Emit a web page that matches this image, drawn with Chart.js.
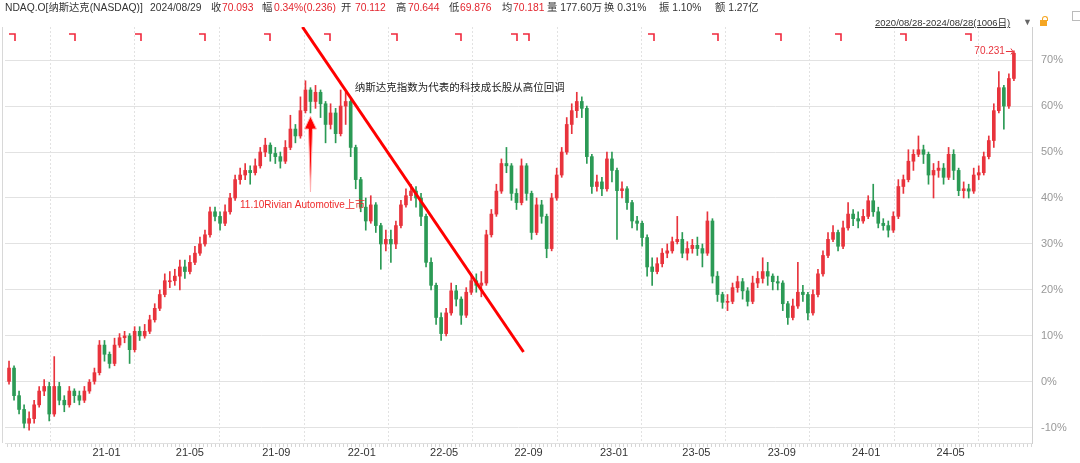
<!DOCTYPE html>
<html lang="zh-CN">
<head>
<meta charset="UTF-8">
<title>NDAQ.O 纳斯达克 K线</title>
<script src="https://cdn.jsdelivr.net/npm/chart.js@4"></script>
<style>
  html, body { margin: 0; padding: 0; background: #fff; }
  .wrap { position: relative; width: 1080px; height: 463px; overflow: hidden;
          font-family: "Liberation Sans", "Noto Sans CJK SC", sans-serif; }
  #kline { position: absolute; left: 0; top: 0; }
  .hd { position: absolute; top: 1px; font-size: 10.3px; line-height: 14px; color: #333; white-space: nowrap; }
  .hd.r { color: #e3262f; }
  .range { position: absolute; left: 875px; top: 16px; font-size: 9.5px; line-height: 14px; color: #333;
           text-decoration: underline; white-space: nowrap; }
  .tri { position: absolute; left: 1023px; top: 17px; font-size: 9px; color: #666; }
  .lock { position: absolute; left: 1040px; top: 20px; width: 7px; height: 6px; background: #f5a623; }
  .lock:before { content: ""; position: absolute; left: 2px; top: -4px; width: 4px; height: 4px;
                 border: 1px solid #f5a623; border-bottom: none; border-radius: 3px 3px 0 0; }
  .ico { position: absolute; left: 1072px; top: 11px; width: 7px; height: 8px; border: 1px solid #bbb; }
</style>
</head>
<body>
<div class="wrap">
  <canvas id="kline" width="1080" height="463"></canvas>

  <span class="hd" style="left:5px">NDAQ.O[纳斯达克(NASDAQ)]</span>
  <span class="hd" style="left:150px">2024/08/29</span>
  <span class="hd" style="left:211px">收</span><span class="hd r" style="left:222px">70.093</span>
  <span class="hd" style="left:262px">幅</span><span class="hd r" style="left:274px">0.34%(0.236)</span>
  <span class="hd" style="left:341px">开</span><span class="hd r" style="left:355px">70.112</span>
  <span class="hd" style="left:396px">高</span><span class="hd r" style="left:408px">70.644</span>
  <span class="hd" style="left:449px">低</span><span class="hd r" style="left:460px">69.876</span>
  <span class="hd" style="left:502px">均</span><span class="hd r" style="left:513px">70.181</span>
  <span class="hd" style="left:547px">量 177.60万</span>
  <span class="hd" style="left:604px">换 0.31%</span>
  <span class="hd" style="left:659px">振 1.10%</span>
  <span class="hd" style="left:715px">额 1.27亿</span>

  <span class="range">2020/08/28-2024/08/28(1006日)</span>
  <span class="tri">▼</span>
  <span class="lock"></span>
  <span class="ico"></span>
</div>

<script>
  // 周K (每5个交易日一根), 数值为相对 2020/08/28 的涨跌幅 %
  var opens = [
    0, 3, -3, -6, -9, -8, -5, -2, -1, -7,
    -1, -4, -5, -2, -3, -4, -2, 0, 2, 8,
    6, 4, 8, 9.6, 10, 7, 11, 10, 11, 13.5,
    16, 19, 22, 22, 23, 25, 24, 26, 28, 30,
    32, 37, 36, 34.5, 37, 40, 44, 45, 46, 45.5,
    47, 50, 51.5, 49.7, 49, 48, 51, 55, 53.5, 59,
    63.5, 61, 63, 60.5, 56, 58.5, 54, 60, 61, 51,
    44, 38, 35, 38.5, 34, 30, 31, 30, 34, 38.5,
    40.5, 41.5, 40, 36, 26, 21, 14, 10.5, 15, 19.8,
    18, 14.5, 19.5, 22, 21, 21.5, 32, 36.5, 41.5, 47.5,
    47, 41, 39, 47, 41, 32.5, 38.5, 36, 29, 40,
    45, 50, 56, 59, 61, 59.5, 49, 42.5, 43.5, 42,
    48.5, 46, 41.6, 42, 39, 35, 34.5, 31.4, 25, 24,
    25.7, 28, 28.5, 30.5, 31, 28, 29, 29.7, 29, 28,
    35, 23, 19, 17.3, 17.5, 20.5, 21.8, 19.8, 17.5, 21.5,
    22.5, 24, 23, 21.8, 21.5, 17, 14, 16.5, 19.5, 19,
    15, 19, 23.5, 27.5, 31, 32.5, 29.5, 33.5, 36.5, 35.5,
    35, 36, 39.4, 37, 34.5, 34, 33, 36, 42.5, 44,
    48, 49.5, 50.5, 49.5, 45, 46, 46.5, 44.5, 49.5, 46,
    41.6, 42, 41.5, 45, 45.5, 49, 52.5, 59, 64, 60,
    66
  ];
  var closes = [
    3, -3, -6, -9, -8, -5, -2, -1, -7, -1,
    -4, -5, -2, -3, -4, -2, 0, 2, 8, 6,
    4, 8, 9.6, 10, 7, 11, 10, 11, 13.5, 16,
    19, 22, 22, 23, 25, 24, 26, 28, 30, 32,
    37, 36, 34.5, 37, 40, 44, 45, 46, 45.5, 47,
    50, 51.5, 49.7, 49, 48, 51, 55, 53.5, 59, 63.5,
    61, 63, 60.5, 56, 58.5, 54, 60, 61, 51, 44,
    38, 35, 38.5, 34, 30, 31, 30, 34, 38.5, 40.5,
    41.5, 40, 36, 26, 21, 14, 10.5, 15, 19.8, 18,
    14.5, 19.5, 22, 21, 21.5, 32, 36.5, 41.5, 47.5, 47,
    41, 39, 47, 41, 32.5, 38.5, 36, 29, 40, 45,
    50, 56, 59, 61, 59.5, 49, 42.5, 43.5, 42, 48.5,
    46, 41.6, 42, 39, 35, 34.5, 31.4, 25, 24, 25.7,
    28, 28.5, 30.5, 31, 28, 29, 29.7, 29, 28, 35,
    23, 19, 17.3, 17.5, 20.5, 21.8, 19.8, 17.5, 21.5, 22.5,
    24, 23, 21.8, 21.5, 17, 14, 16.5, 19.5, 19, 15,
    19, 23.5, 27.5, 31, 32.5, 29.5, 33.5, 36.5, 35.5, 35,
    36, 39.4, 37, 34.5, 34, 33, 36, 42.5, 44, 48,
    49.5, 50.5, 49.5, 45, 46, 46.5, 44.5, 49.5, 46, 41.6,
    42, 41.5, 45, 45.5, 49, 52.5, 59, 64, 60, 66,
    71.5
  ];
  var highs = [
    4.5, 3.5, -2, -5, -6.5, -4, -1, 0.5, 0, 5.5,
    0, -3, -1, -1.5, -2, -1, 0.5, 3, 9, 9,
    6.5, 9.5, 10.5, 11, 10.5, 12, 12, 12.5, 14.5, 17,
    20, 23.5, 24, 24.5, 26.5, 26.5, 27.5, 29.5, 31.5, 33,
    38, 38, 37, 38.5, 41, 45, 46.5, 47.5, 47, 48.5,
    51, 53, 52, 51, 50, 52.5, 58, 56, 62, 65.5,
    64, 64.5, 63.5, 61, 60.5, 59.5, 63.5, 63, 61.5, 51.5,
    44.5, 40, 40.5, 39, 34.5, 33, 33, 35, 39.5, 42,
    43, 42.5, 41, 36.5, 27, 21.5, 15, 16, 21.5, 21,
    18.5, 20.5, 23.5, 23.5, 24, 33, 37.5, 43, 48.5, 51,
    47.5, 42, 48.5, 47.5, 41.5, 40, 39.5, 36.5, 41, 46.5,
    51, 57.5, 60.5, 63, 62, 60, 49.5, 45, 44.5, 50,
    50, 46.5, 43.5, 42.5, 39.5, 36, 35, 32, 27, 27,
    29, 30, 31.5, 36, 32.5, 30.5, 31, 31.5, 30, 37,
    35.5, 24, 19.5, 19, 21.5, 23, 22.5, 20.5, 23, 24,
    27, 26, 23.5, 23, 22, 17.5, 18, 26, 21, 19.5,
    20, 24.5, 28.5, 32.5, 34, 33, 35, 39, 37.5, 37,
    37.5, 40.5, 43, 38, 35.5, 35, 37, 44, 45, 50.5,
    50.5, 53.5, 51.5, 50, 47.5, 48, 47.5, 51, 50.5, 46.5,
    43.5, 43, 46.5, 47, 50, 53.5, 60.5, 67.5, 64.5, 67,
    72
  ];
  var lows = [
    -0.5, -4, -7, -10, -10.5, -9, -5.5, -3, -8.5, -7.5,
    -5, -6.5, -5.5, -4.5, -5, -4.5, -2.5, -0.5, 1.5, 4.5,
    3, 3.5, 7.5, 8.5, 4, 6.5, 9, 9.5, 10.5, 13,
    15.5, 18.5, 20.5, 21, 20, 22.5, 23.5, 25.5, 27.5, 29.5,
    31.5, 35, 33, 34, 36.5, 39.5, 43, 44, 43, 45,
    46.5, 49, 48, 47.5, 46.5, 47.5, 50.5, 52, 53, 58.5,
    58.5, 59.5, 57.5, 52, 55, 52, 53.5, 56, 49, 42,
    37, 33, 34.5, 32.5, 24.5, 28.5, 26, 29, 33.5, 38,
    39.5, 38, 34, 25, 20, 12.5, 9, 10, 14.5, 16.5,
    12.5, 14, 19, 19.5, 18.5, 21, 31.5, 36, 41, 45.5,
    39.5, 37.5, 38.5, 39.5, 31, 32, 34.5, 27, 28.5, 39.5,
    44.5, 49.5, 54, 57.5, 57.5, 47.5, 41, 41.5, 40.5, 41.5,
    43.5, 31, 40, 37.5, 33.5, 33, 29.5, 23, 21, 23.5,
    25, 27, 28, 30, 27, 26.5, 28, 27.5, 25, 27.5,
    21.5, 17.5, 16, 15.5, 17, 19.5, 18, 16.5, 17, 20.5,
    21.5, 21, 20, 20, 15.5, 12.5, 13.5, 16, 17.5, 13.5,
    14.5, 18.5, 23, 27, 30.5, 28.5, 29, 33, 34, 33.5,
    34.5, 35.5, 36, 33.5, 33, 31.5, 32.5, 35.5, 41, 43.5,
    46, 49, 47.5, 43, 40, 44.5, 43, 44, 44, 40.5,
    40, 40, 41, 44, 45, 48.5, 51, 58.5, 55, 59.5,
    65.5
  ];

  // x轴: 交易日序号 -> 月份标签
  var tickDays = [85, 168, 254, 339, 421, 505, 590, 672, 757, 841, 925];
  var tickLabels = ["21-01", "21-05", "21-09", "22-01", "22-05", "22-09", "23-01", "23-05", "23-09", "24-01", "24-05"];
  var yTicks = [-10, 0, 10, 20, 30, 40, 50, 60, 70];

  // 分红标记 (交易日序号)
  var divDays = [2, 62, 127, 191, 256, 315, 382, 446, 502, 513, 638, 702, 764, 824, 889, 953];

  // 趋势线端点 [交易日, %]
  var trendDays = [294, 514];
  var trendVals = [77.2, 6.5];

  var maxLabel = "70.231";
  var RED = "#e8333c";
  var GREEN = "#2b9a55";

  var candleX = [];
  for (var i = 0; i < closes.length; i++) candleX.push(i * 5 + 2);

  var wickData = [], bodyData = [], cores = [];
  for (var i = 0; i < closes.length; i++) {
    wickData.push({ x: candleX[i], y: [lows[i], highs[i]] });
    bodyData.push({ x: candleX[i], y: [opens[i], closes[i]] });
    cores.push(closes[i] >= opens[i] ? RED : GREEN);
  }
  var trendData = [
    { x: trendDays[0], y: trendVals[0] },
    { x: trendDays[1], y: trendVals[1] }
  ];

  var deco = {
    id: "deco",
    afterDraw: function (chart) {
      var ctx = chart.ctx, a = chart.chartArea;
      var xs = chart.scales.x, ys = chart.scales.y;
      ctx.save();

      // borda esquerda
      ctx.strokeStyle = "#d8d8d8";
      ctx.lineWidth = 1;
      ctx.beginPath();
      ctx.moveTo(2.5, a.top);
      ctx.lineTo(2.5, a.bottom);
      ctx.stroke();

      // régua abaixo do gráfico
      ctx.strokeStyle = "#d6d6d6";
      ctx.beginPath();
      for (var px = a.left + 2; px < a.right; px += 4) {
        ctx.moveTo(px + 0.5, a.bottom + 1);
        ctx.lineTo(px + 0.5, a.bottom + 4);
      }
      ctx.stroke();

      // marcadores de dividendos
      ctx.strokeStyle = "#f0283c";
      ctx.lineWidth = 1.6;
      divDays.forEach(function (d) {
        var x = Math.round(xs.getPixelForValue(d));
        ctx.beginPath();
        ctx.moveTo(x, a.top + 7);
        ctx.lineTo(x + 6, a.top + 7);
        ctx.lineTo(x + 6, a.top + 14);
        ctx.stroke();
      });

      // seta Rivian
      var ax = xs.getPixelForValue(302);
      var tip = ys.getPixelForValue(57.8);
      var base = ys.getPixelForValue(55);
      var foot = ys.getPixelForValue(41.3);
      ctx.fillStyle = "#ff0000";
      ctx.strokeStyle = "#ffb3b3";
      ctx.lineWidth = 1;
      ctx.beginPath();
      ctx.moveTo(ax, tip);
      ctx.lineTo(ax + 6, base);
      ctx.lineTo(ax + 2, base);
      ctx.lineTo(ax, foot);
      ctx.lineTo(ax - 2, base);
      ctx.lineTo(ax - 6, base);
      ctx.closePath();
      ctx.fill();
      ctx.stroke();

      ctx.fillStyle = "#ee2a2a";
      ctx.font = "10px 'Liberation Sans', 'Noto Sans CJK SC'";
      ctx.textAlign = "center";
      ctx.textBaseline = "middle";
      ctx.fillText("11.10Rivian Automotive上市", xs.getPixelForValue(294), ys.getPixelForValue(38.5));

      ctx.fillStyle = "#222";
      ctx.font = "10.5px 'Noto Sans CJK SC'";
      ctx.textAlign = "left";
      ctx.fillText("纳斯达克指数为代表的科技成长股从高位回调", xs.getPixelForValue(346), ys.getPixelForValue(64.2));

      // rótulo do máximo
      var last = closes.length - 1;
      var mx = xs.getPixelForValue(candleX[last]);
      var my = Math.round(ys.getPixelForValue(highs[last])) + 0.5;
      ctx.fillStyle = "#e8333c";
      ctx.strokeStyle = "#e8333c";
      ctx.font = "10px 'Liberation Sans'";
      ctx.textAlign = "right";
      ctx.fillText(maxLabel, mx - 9, my);
      ctx.beginPath();
      ctx.moveTo(mx - 8, my);
      ctx.lineTo(mx - 1, my);
      ctx.moveTo(mx - 3, my - 3);
      ctx.lineTo(mx - 1, my);
      ctx.lineTo(mx - 3, my + 3);
      ctx.stroke();

      ctx.restore();
    }
  };

  new Chart(document.getElementById("kline"), {
    type: "bar",
    data: {
      datasets: [
        {
          type: "line",
          data: trendData,
          borderColor: "#ff0000",
          borderWidth: 3,
          pointRadius: 0,
          order: 1
        },
        {
          data: bodyData,
          backgroundColor: cores,
          barThickness: 3,
          minBarLength: 1,
          grouped: false,
          order: 2
        },
        {
          data: wickData,
          backgroundColor: cores,
          barThickness: 1,
          grouped: false,
          order: 3
        }
      ]
    },
    options: {
      responsive: false,
      animation: false,
      events: [],
      layout: { padding: { left: 5, top: 27, right: 0, bottom: 0 } },
      plugins: { legend: { display: false }, tooltip: { enabled: false } },
      scales: {
        x: {
          type: "linear",
          min: -2,
          max: 1020,
          offset: false,
          afterFit: function (s) { s.height = 20; },
          afterBuildTicks: function (s) {
            s.ticks = tickDays.map(function (d) { return { value: d }; });
          },
          ticks: {
            autoSkip: false,
            maxRotation: 0,
            align: "start",
            padding: 3,
            color: "#333",
            font: { size: 11, family: "'Liberation Sans'" },
            callback: function (v, i) { return tickLabels[i]; }
          },
          grid: { color: "#e2e2e2", drawTicks: false, tickBorderDash: [2, 2] },
          border: { display: true, color: "#e0e0e0", dash: [2, 2] }
        },
        y: {
          position: "right",
          min: -13.3,
          max: 77.2,
          afterFit: function (s) { s.width = 48; },
          afterBuildTicks: function (s) {
            s.ticks = yTicks.map(function (v) { return { value: v }; });
          },
          ticks: {
            padding: 9,
            color: "#999",
            font: { size: 11, family: "'Liberation Sans'" },
            callback: function (v) { return v + "%"; }
          },
          grid: { color: "#e2e2e2", drawTicks: false },
          border: { display: true, color: "#d0d0d0" }
        }
      }
    },
    plugins: [deco]
  });
</script>
</body>
</html>
